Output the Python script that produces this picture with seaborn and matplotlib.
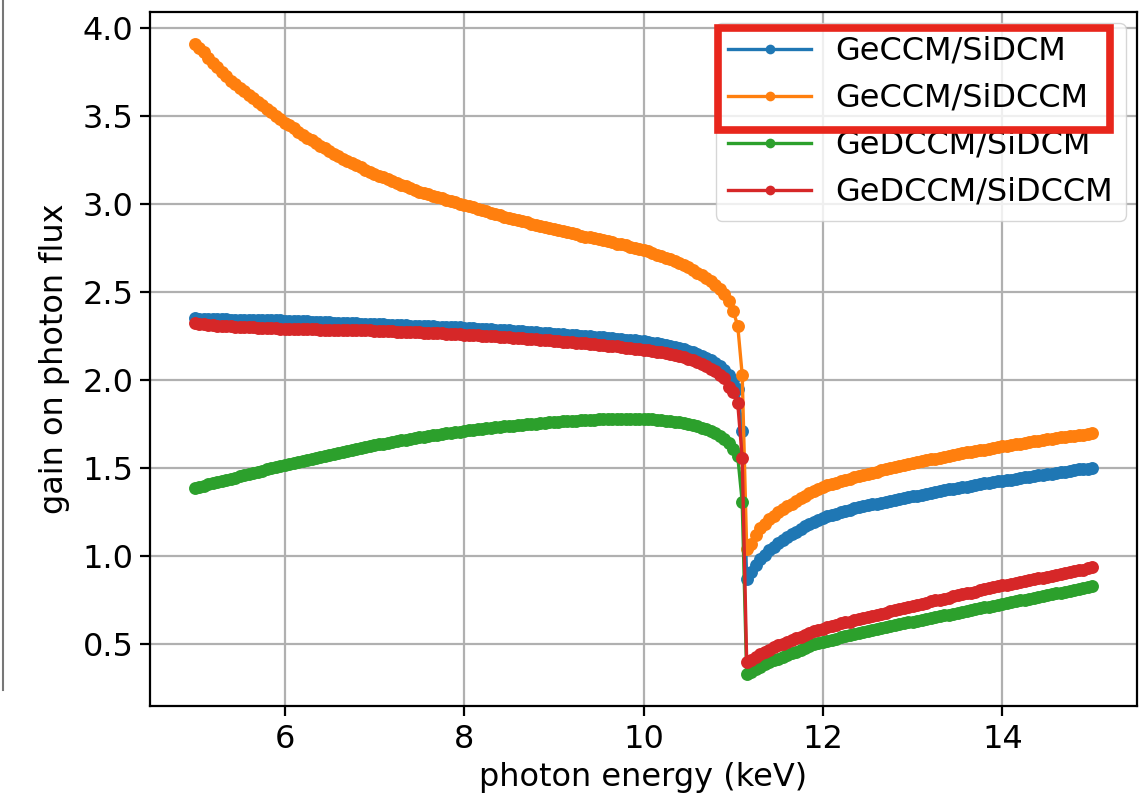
import matplotlib
matplotlib.use("Agg")
import matplotlib.pyplot as plt
import seaborn as sns
import pandas as pd
from matplotlib.patches import Rectangle
from matplotlib.lines import Line2D

# ---------------- data ----------------
energy = [5.0, 5.05, 5.1, 5.15, 5.2, 5.25, 5.3, 5.35, 5.4, 5.45,
          5.5, 5.55, 5.6, 5.65, 5.7, 5.75, 5.8, 5.85, 5.9, 5.95,
          6.0, 6.05, 6.1, 6.15, 6.2, 6.25, 6.3, 6.35, 6.4, 6.45,
          6.5, 6.55, 6.6, 6.65, 6.7, 6.75, 6.8, 6.85, 6.9, 6.95,
          7.0, 7.05, 7.1, 7.15, 7.2, 7.25, 7.3, 7.35, 7.4, 7.45,
          7.5, 7.55, 7.6, 7.65, 7.7, 7.75, 7.8, 7.85, 7.9, 7.95,
          8.0, 8.05, 8.1, 8.15, 8.2, 8.25, 8.3, 8.35, 8.4, 8.45,
          8.5, 8.55, 8.6, 8.65, 8.7, 8.75, 8.8, 8.85, 8.9, 8.95,
          9.0, 9.05, 9.1, 9.15, 9.2, 9.25, 9.3, 9.35, 9.4, 9.45,
          9.5, 9.55, 9.6, 9.65, 9.7, 9.75, 9.8, 9.85, 9.9, 9.95,
          10.0, 10.05, 10.1, 10.15, 10.2, 10.25, 10.3, 10.35, 10.4, 10.45,
          10.5, 10.55, 10.6, 10.65, 10.7, 10.75, 10.8, 10.85, 10.9, 10.95,
          11.0, 11.05, 11.1, 11.15, 11.2, 11.25, 11.3, 11.35, 11.4, 11.45,
          11.5, 11.55, 11.6, 11.65, 11.7, 11.75, 11.8, 11.85, 11.9, 11.95,
          12.0, 12.05, 12.1, 12.15, 12.2, 12.25, 12.3, 12.35, 12.4, 12.45,
          12.5, 12.55, 12.6, 12.65, 12.7, 12.75, 12.8, 12.85, 12.9, 12.95,
          13.0, 13.05, 13.1, 13.15, 13.2, 13.25, 13.3, 13.35, 13.4, 13.45,
          13.5, 13.55, 13.6, 13.65, 13.7, 13.75, 13.8, 13.85, 13.9, 13.95,
          14.0, 14.05, 14.1, 14.15, 14.2, 14.25, 14.3, 14.35, 14.4, 14.45,
          14.5, 14.55, 14.6, 14.65, 14.7, 14.75, 14.8, 14.85, 14.9, 14.95,
          15.0]

geccm_sidcm = [2.350, 2.349, 2.348, 2.347, 2.346, 2.346, 2.345, 2.345, 2.344, 2.344,
               2.343, 2.343, 2.342, 2.342, 2.341, 2.341, 2.340, 2.340, 2.339, 2.339,
               2.338, 2.337, 2.336, 2.335, 2.334, 2.333, 2.332, 2.331, 2.330, 2.329,
               2.328, 2.327, 2.326, 2.325, 2.324, 2.323, 2.322, 2.321, 2.320, 2.319,
               2.318, 2.317, 2.316, 2.315, 2.314, 2.313, 2.312, 2.311, 2.310, 2.309,
               2.308, 2.307, 2.306, 2.305, 2.304, 2.303, 2.302, 2.301, 2.300, 2.299,
               2.298, 2.296, 2.295, 2.293, 2.292, 2.290, 2.289, 2.287, 2.286, 2.284,
               2.283, 2.281, 2.280, 2.278, 2.276, 2.274, 2.272, 2.270, 2.268, 2.266,
               2.264, 2.262, 2.260, 2.258, 2.256, 2.254, 2.252, 2.250, 2.248, 2.246,
               2.244, 2.242, 2.240, 2.237, 2.235, 2.232, 2.230, 2.227, 2.225, 2.222,
               2.220, 2.216, 2.212, 2.208, 2.204, 2.199, 2.194, 2.188, 2.182, 2.175,
               2.168, 2.159, 2.150, 2.139, 2.128, 2.115, 2.100, 2.082, 2.060, 2.030,
               2.00, 1.95, 1.71, 0.87, 0.91, 0.95, 0.985, 1.01, 1.035, 1.055,
               1.075, 1.093, 1.11, 1.125, 1.14, 1.155, 1.17, 1.183, 1.195, 1.208,
               1.22, 1.228, 1.235, 1.243, 1.25, 1.258, 1.265, 1.273, 1.28, 1.285,
               1.29, 1.295, 1.30, 1.305, 1.31, 1.315, 1.32, 1.325, 1.33, 1.335,
               1.34, 1.345, 1.35, 1.355, 1.36, 1.365, 1.37, 1.375, 1.38, 1.385,
               1.39, 1.393, 1.395, 1.40, 1.405, 1.41, 1.415, 1.418, 1.42, 1.425,
               1.43, 1.433, 1.435, 1.44, 1.445, 1.448, 1.45, 1.455, 1.46, 1.463,
               1.465, 1.47, 1.475, 1.478, 1.48, 1.485, 1.49, 1.493, 1.495, 1.498,
               1.50]

geccm_sidccm = [3.91, 3.885, 3.86, 3.83, 3.80, 3.775, 3.75, 3.725, 3.70, 3.68,
                3.66, 3.64, 3.62, 3.60, 3.58, 3.56, 3.54, 3.52, 3.50, 3.48,
                3.46, 3.445, 3.43, 3.41, 3.39, 3.375, 3.36, 3.345, 3.33, 3.315,
                3.30, 3.285, 3.27, 3.257, 3.245, 3.232, 3.22, 3.207, 3.195, 3.182,
                3.17, 3.16, 3.15, 3.14, 3.13, 3.12, 3.11, 3.10, 3.09, 3.08,
                3.07, 3.062, 3.055, 3.047, 3.04, 3.032, 3.025, 3.017, 3.01, 3.002,
                2.995, 2.987, 2.98, 2.972, 2.965, 2.957, 2.95, 2.942, 2.935, 2.927,
                2.92, 2.915, 2.91, 2.902, 2.895, 2.887, 2.88, 2.875, 2.87, 2.865,
                2.86, 2.852, 2.845, 2.84, 2.835, 2.827, 2.82, 2.815, 2.81, 2.805,
                2.80, 2.795, 2.79, 2.782, 2.775, 2.77, 2.765, 2.757, 2.75, 2.745,
                2.74, 2.73, 2.72, 2.712, 2.705, 2.695, 2.685, 2.675, 2.665, 2.653,
                2.64, 2.625, 2.61, 2.595, 2.58, 2.56, 2.54, 2.515, 2.49, 2.45,
                2.39, 2.31, 2.03, 1.04, 1.07, 1.12, 1.16, 1.185, 1.21, 1.23,
                1.25, 1.268, 1.285, 1.30, 1.315, 1.33, 1.345, 1.358, 1.37, 1.383,
                1.395, 1.403, 1.41, 1.418, 1.425, 1.433, 1.44, 1.448, 1.455, 1.463,
                1.47, 1.475, 1.48, 1.488, 1.495, 1.50, 1.505, 1.513, 1.52, 1.525,
                1.53, 1.535, 1.54, 1.545, 1.55, 1.555, 1.56, 1.565, 1.57, 1.575,
                1.58, 1.585, 1.59, 1.595, 1.60, 1.603, 1.605, 1.61, 1.615, 1.62,
                1.625, 1.628, 1.63, 1.635, 1.64, 1.645, 1.65, 1.653, 1.655, 1.66,
                1.665, 1.668, 1.67, 1.675, 1.68, 1.683, 1.685, 1.688, 1.69, 1.695,
                1.70]

gedccm_sidcm = [1.390, 1.396, 1.402, 1.408, 1.415, 1.421, 1.428, 1.434, 1.441, 1.447,
                1.454, 1.460, 1.467, 1.473, 1.480, 1.486, 1.493, 1.499, 1.506, 1.512,
                1.518, 1.524, 1.530, 1.536, 1.542, 1.548, 1.554, 1.560, 1.566, 1.571,
                1.577, 1.582, 1.588, 1.593, 1.599, 1.604, 1.610, 1.615, 1.620, 1.625,
                1.630, 1.635, 1.640, 1.644, 1.649, 1.653, 1.658, 1.662, 1.667, 1.671,
                1.675, 1.679, 1.683, 1.687, 1.691, 1.694, 1.698, 1.701, 1.705, 1.708,
                1.712, 1.715, 1.718, 1.721, 1.724, 1.727, 1.730, 1.732, 1.735, 1.737,
                1.740, 1.742, 1.745, 1.747, 1.750, 1.752, 1.754, 1.756, 1.758, 1.760,
                1.762, 1.764, 1.766, 1.767, 1.769, 1.770, 1.772, 1.773, 1.775, 1.776,
                1.777, 1.778, 1.779, 1.779, 1.780, 1.780, 1.781, 1.781, 1.781, 1.781,
                1.780, 1.779, 1.778, 1.776, 1.774, 1.771, 1.768, 1.764, 1.760, 1.755,
                1.750, 1.744, 1.737, 1.729, 1.720, 1.710, 1.698, 1.684, 1.668, 1.645,
                1.61, 1.57, 1.31, 0.33, 0.345, 0.36, 0.375, 0.388, 0.40, 0.41,
                0.42, 0.43, 0.44, 0.45, 0.46, 0.47, 0.48, 0.49, 0.50, 0.508,
                0.515, 0.521, 0.528, 0.534, 0.54, 0.546, 0.552, 0.558, 0.564, 0.57,
                0.576, 0.582, 0.588, 0.594, 0.60, 0.605, 0.61, 0.615, 0.62, 0.625,
                0.63, 0.635, 0.64, 0.645, 0.65, 0.655, 0.66, 0.665, 0.67, 0.675,
                0.68, 0.685, 0.69, 0.695, 0.70, 0.705, 0.71, 0.715, 0.72, 0.725,
                0.73, 0.735, 0.74, 0.745, 0.75, 0.755, 0.76, 0.765, 0.77, 0.775,
                0.78, 0.785, 0.79, 0.795, 0.80, 0.805, 0.81, 0.815, 0.82, 0.825,
                0.83]

gedccm_sidccm = [2.325, 2.321, 2.318, 2.315, 2.312, 2.310, 2.308, 2.306, 2.305, 2.303,
                 2.302, 2.301, 2.300, 2.299, 2.298, 2.297, 2.296, 2.295, 2.294, 2.293,
                 2.292, 2.291, 2.290, 2.290, 2.289, 2.289, 2.288, 2.288, 2.287, 2.287,
                 2.286, 2.286, 2.285, 2.285, 2.284, 2.284, 2.283, 2.283, 2.282, 2.282,
                 2.281, 2.280, 2.279, 2.278, 2.277, 2.276, 2.275, 2.274, 2.273, 2.272,
                 2.271, 2.270, 2.269, 2.268, 2.267, 2.266, 2.264, 2.263, 2.261, 2.260,
                 2.258, 2.257, 2.255, 2.254, 2.252, 2.251, 2.249, 2.248, 2.246, 2.245,
                 2.243, 2.241, 2.239, 2.237, 2.235, 2.233, 2.231, 2.229, 2.227, 2.225,
                 2.223, 2.221, 2.219, 2.217, 2.215, 2.213, 2.211, 2.209, 2.206, 2.204,
                 2.201, 2.199, 2.196, 2.194, 2.191, 2.188, 2.185, 2.182, 2.179, 2.176,
                 2.173, 2.170, 2.166, 2.162, 2.158, 2.153, 2.148, 2.142, 2.136, 2.129,
                 2.121, 2.112, 2.103, 2.092, 2.080, 2.066, 2.050, 2.032, 2.010, 1.96,
                 1.93, 1.87, 1.56, 0.40, 0.41, 0.43, 0.445, 0.458, 0.47, 0.483,
                 0.495, 0.505, 0.515, 0.525, 0.535, 0.545, 0.555, 0.565, 0.575, 0.583,
                 0.59, 0.598, 0.605, 0.613, 0.62, 0.625, 0.63, 0.638, 0.645, 0.65,
                 0.655, 0.663, 0.67, 0.675, 0.68, 0.688, 0.695, 0.70, 0.705, 0.713,
                 0.72, 0.725, 0.73, 0.738, 0.745, 0.75, 0.755, 0.76, 0.765, 0.773,
                 0.78, 0.785, 0.79, 0.795, 0.80, 0.808, 0.815, 0.82, 0.825, 0.83,
                 0.835, 0.84, 0.845, 0.85, 0.855, 0.86, 0.865, 0.87, 0.875, 0.88,
                 0.885, 0.89, 0.895, 0.90, 0.905, 0.91, 0.915, 0.92, 0.925, 0.933,
                 0.94]

series_names = ["GeCCM/SiDCM", "GeCCM/SiDCCM", "GeDCCM/SiDCM", "GeDCCM/SiDCCM"]
series_values = [geccm_sidcm, geccm_sidccm, gedccm_sidcm, gedccm_sidccm]
series_colors = ["#1f77b4", "#ff7f0e", "#2ca02c", "#d62728"]

x_label = "photon energy (keV)"
y_label = "gain on photon flux"

# ---------------- figure ----------------
FS = 23
plt.rcParams.update({
    "font.family": ["DejaVu Sans"],
    "font.size": FS,
    "axes.linewidth": 1.6,
    "xtick.major.width": 1.6,
    "ytick.major.width": 1.6,
    "xtick.major.size": 7,
    "ytick.major.size": 7,
    "xtick.major.pad": 6,
    "ytick.major.pad": 5,
})

fig = plt.figure(figsize=(11.43, 8.0), dpi=100)
ax = fig.add_axes([150 / 1143, 1 - 706 / 800, (1137 - 150) / 1143, (706 - 12) / 800])

for name, vals, col in zip(series_names, series_values, series_colors):
    assert len(vals) == len(energy)
    df = pd.DataFrame({"energy": energy, "gain": vals})
    sns.lineplot(data=df, x="energy", y="gain", ax=ax, color=col, label=name,
                 sort=False, linewidth=2.4, marker="o", markersize=9.3,
                 markeredgewidth=0, markeredgecolor=col, markerfacecolor=col)

ax.grid(True, color="#b0b0b0", linewidth=1.6)
ax.set_axisbelow(True)
ax.set_xlabel(x_label, fontsize=FS, labelpad=5)
ax.set_ylabel(y_label, fontsize=FS, labelpad=9)
ax.tick_params(labelsize=FS)
ax.set_xticks([6, 8, 10, 12, 14])
ax.set_yticks([0.5, 1.0, 1.5, 2.0, 2.5, 3.0, 3.5, 4.0])

leg = ax.legend(loc="upper right", fontsize=FS, handlelength=2.6,
                handletextpad=0.75, framealpha=0.8, borderaxespad=0.35)
for h in leg.legend_handles:
    h.set_markersize(7)

# red annotation box around the first two legend entries
rect = Rectangle((718 / 1143, 1 - 130 / 800), (1110 - 718) / 1143, (130 - 28) / 800,
                 transform=fig.transFigure, fill=False, edgecolor="#e8261c",
                 linewidth=5.5, zorder=10)
fig.add_artist(rect)

# thin grey screenshot edge at the far left
fig.add_artist(Line2D([3 / 1143, 3 / 1143], [1 - 690 / 800, 1.0],
                      transform=fig.transFigure, color="#777777", linewidth=1.5))

fig.savefig("out.png", dpi=100)
